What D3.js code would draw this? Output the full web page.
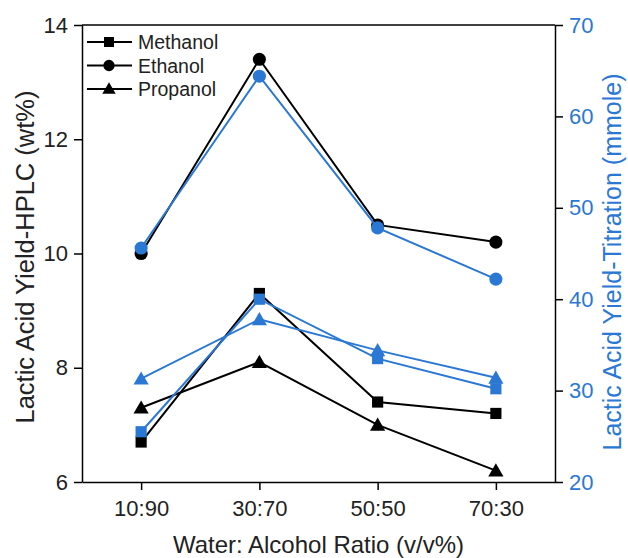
<!DOCTYPE html>
<html>
<head>
<meta charset="utf-8">
<script src="https://cdn.jsdelivr.net/npm/d3@7"></script>
<style>
  body { margin: 0; background: #fff; }
  text { font-family: "Liberation Sans", Arial, sans-serif; }
</style>
</head>
<body>
<script>
// data
var ratios = ['10:90', '30:70', '50:50', '70:30'];
var seriesNames = ['Methanol', 'Ethanol', 'Propanol'];
// HPLC (wt%), left axis, black
var hplcMethanol = [6.7, 9.3, 7.4, 7.2];
var hplcEthanol = [10.0, 13.4, 10.5, 10.2];
var hplcPropanol = [7.3, 8.1, 7.0, 6.2];
// Titration (mmole), right axis, blue
var titMethanol = [25.5, 40.0, 33.5, 30.2];
var titEthanol = [45.6, 64.4, 47.8, 42.2];
var titPropanol = [31.3, 37.8, 34.4, 31.4];
var leftTicks = [6, 8, 10, 12, 14];
var rightTicks = [20, 30, 40, 50, 60, 70];

var width = 628, height = 558;
var margin = {top: 25, right: 73, bottom: 76, left: 82};
var w = width - margin.left - margin.right,
  h = height - margin.top - margin.bottom;
var blue = '#2a78d4';

var svg = d3.select(document.body).append('svg').attr('width', width).attr('height', height);
var g = svg.append('g').attr('transform', 'translate(' + margin.left + ',' + margin.top + ')');

var x = d3.scalePoint().domain(ratios).range([0, w]).padding(0.5);
var yL = d3.scaleLinear().domain([6, 14]).range([h, 0]);
var yR = d3.scaleLinear().domain([20, 70]).range([h, 0]);

// frame top line
g.append('line').attr('x1', 0).attr('x2', w).attr('y1', 0).attr('y2', 0)
  .attr('stroke', '#000').attr('stroke-width', 1.5);

function styleAxis(sel, col) {
  sel.select('.domain').attr('stroke', '#000').attr('stroke-width', 1.5);
  sel.selectAll('.tick line').attr('stroke', '#000').attr('stroke-width', 1.5);
  sel.selectAll('.tick text').attr('fill', col).style('font-size', '22px')
    .style('font-family', '"Liberation Sans", Arial, sans-serif');
}

g.append('g').attr('transform', 'translate(0,' + h + ')')
  .call(d3.axisBottom(x).tickSize(8).tickSizeOuter(0).tickPadding(10))
  .call(styleAxis, '#222');

g.append('g')
  .call(d3.axisLeft(yL).tickValues(leftTicks).tickSize(8).tickSizeOuter(0).tickPadding(6))
  .call(styleAxis, '#222');

g.append('g').attr('transform', 'translate(' + w + ',0)')
  .call(d3.axisRight(yR).tickValues(rightTicks).tickSize(8).tickSizeOuter(0).tickPadding(6))
  .call(styleAxis, blue);

// axis titles
svg.append('text').attr('x', margin.left + w / 2).attr('y', 553)
  .attr('text-anchor', 'middle').style('font-size', '24px').attr('fill', '#222')
  .text('Water: Alcohol Ratio (v/v%)');
svg.append('text')
  .attr('transform', 'translate(34,257) rotate(-90)')
  .attr('text-anchor', 'middle').style('font-size', '25.5px').attr('fill', '#222')
  .text('Lactic Acid Yield-HPLC (wt%)');
svg.append('text')
  .attr('transform', 'translate(621,262) rotate(-90)')
  .attr('text-anchor', 'middle').style('font-size', '25px').attr('fill', blue)
  .text('Lactic Acid Yield-Titration (mmole)');

var shapes = [d3.symbolSquare, d3.symbolCircle, d3.symbolTriangle];
var sizes = [125, 135, 100];

function drawSeries(values, yScale, col, k) {
  var line = d3.line().x(function (d, i) { return x(ratios[i]); })
    .y(function (d) { return yScale(d); });
  g.append('path').datum(values).attr('d', line)
    .attr('fill', 'none').attr('stroke', col).attr('stroke-width', 2);
  g.selectAll(null).data(values).enter().append('path')
    .attr('transform', function (d, i) {
      var dy = k == 2 ? 1.5 : 0;
      return 'translate(' + x(ratios[i]) + ',' + (yScale(d) + dy) + ')';
    })
    .attr('d', d3.symbol().type(shapes[k]).size(sizes[k]))
    .attr('fill', col);
}

var hplc = [hplcMethanol, hplcEthanol, hplcPropanol];
var tit = [titMethanol, titEthanol, titPropanol];
hplc.forEach(function (v, k) { drawSeries(v, yL, '#000', k); });
tit.forEach(function (v, k) { drawSeries(v, yR, blue, k); });

// legend
var legend = g.append('g').attr('transform', 'translate(5,17)');
var legSizes = [100, 100, 78];
seriesNames.forEach(function (name, k) {
  var row = legend.append('g').attr('transform', 'translate(0,' + (k * 23.5) + ')');
  row.append('line').attr('x1', 0).attr('x2', 45).attr('stroke', '#000').attr('stroke-width', 2);
  row.append('path').attr('transform', 'translate(22,' + (k == 2 ? 1 : 0) + ')')
    .attr('d', d3.symbol().type(shapes[k]).size(legSizes[k])).attr('fill', '#000');
  row.append('text').attr('x', 51).attr('dy', '0.36em').style('font-size', '19.5px')
    .attr('fill', '#222').text(name);
});
</script>
</body>
</html>
